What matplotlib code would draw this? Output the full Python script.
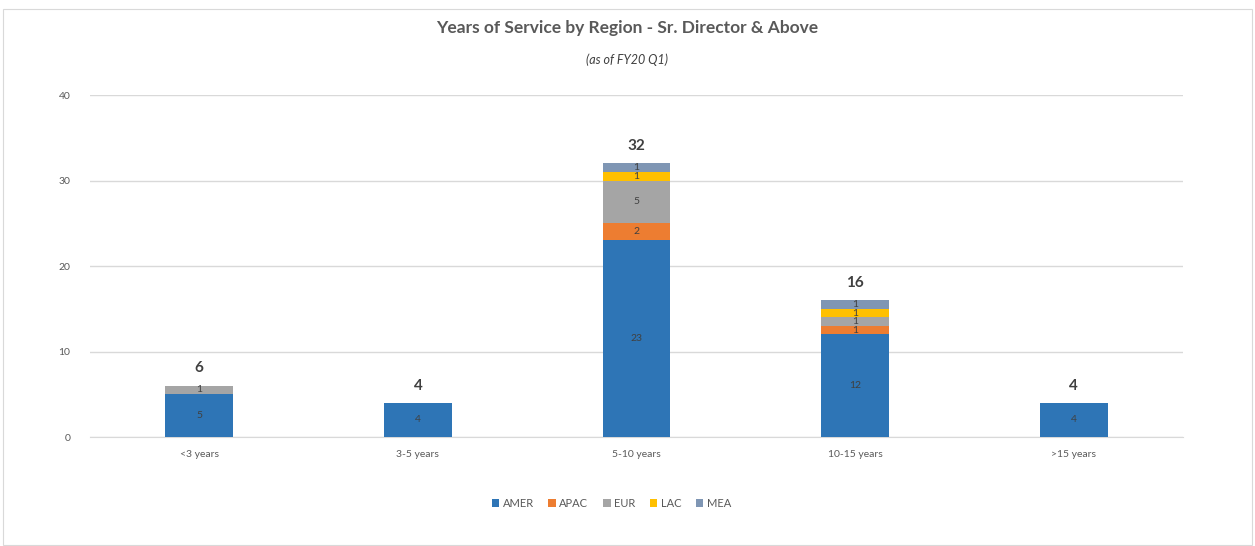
import matplotlib
matplotlib.use("Agg")
import matplotlib.pyplot as plt
from matplotlib.patches import Rectangle
import numpy as np

plt.rcParams['font.family'] = ['Lato', 'DejaVu Sans']

categories = ["<3 years", "3-5 years", "5-10 years", "10-15 years", ">15 years"]
regions = ["AMER", "APAC", "EUR", "LAC", "MEA"]
amer = [5, 4, 23, 12, 4]
apac = [0, 0, 2, 1, 0]
eur = [1, 0, 5, 1, 0]
lac = [0, 0, 1, 1, 0]
mea = [0, 0, 1, 1, 0]
colors = ["#2e75b6", "#ed7d31", "#a5a5a5", "#ffc000", "#7f96b4"]

fig = plt.figure(figsize=(12.55, 5.46), dpi=100)
fig.patches.append(Rectangle((0.002, 0.002), 0.996, 0.982, transform=fig.transFigure,
                             fill=False, edgecolor="#d9d9d9", linewidth=0.8))
ax = fig.add_axes([0.0717, 0.1996, 0.8709, 0.6264])

x = np.arange(len(categories))
bottom = np.zeros(len(categories))
for name, vals, col in zip(regions, [amer, apac, eur, lac, mea], colors):
    vals = np.array(vals)
    ax.bar(x, vals, width=0.31, bottom=bottom, color=col, label=name, zorder=3)
    for xi, v, b in zip(x, vals, bottom):
        if v > 0:
            ax.text(xi, b + v / 2, str(v), ha="center", va="center",
                    fontsize=7.5, color="#404040", zorder=4)
    bottom += vals

for xi, tot in zip(x, bottom):
    ax.text(xi, tot + 1.2, str(int(tot)), ha="center", va="bottom",
            fontsize=11, fontweight="bold", color="#404040")

ax.set_xlim(-0.5, 4.5)
ax.set_ylim(0, 40)
ax.set_yticks([0, 10, 20, 30, 40])
ax.set_xticks(x)
ax.set_xticklabels(categories)
ax.tick_params(axis="both", length=0, labelsize=7.5, labelcolor="#595959")
ax.tick_params(axis="x", pad=9)
ax.tick_params(axis="y", pad=14)
ax.yaxis.grid(True, color="#d9d9d9", linewidth=1)
ax.set_axisbelow(True)
for s in ["top", "right", "left"]:
    ax.spines[s].set_visible(False)
ax.spines["bottom"].set_color("#d9d9d9")

fig.text(0.5, 0.948, "Years of Service by Region - Sr. Director & Above", ha="center",
         va="center", fontsize=12.5, fontweight="bold", color="#595959")
fig.text(0.5, 0.89, "(as of FY20 Q1)", ha="center", va="center",
         fontsize=9, style="italic", color="#404040")

ax.legend(loc="center", bbox_to_anchor=(0.477, -0.195), ncol=5, frameon=False,
          fontsize=8, handlelength=0.7, handleheight=0.7, handletextpad=0.3,
          columnspacing=1.3, labelcolor="#595959")

fig.savefig("out.png", dpi=100)
